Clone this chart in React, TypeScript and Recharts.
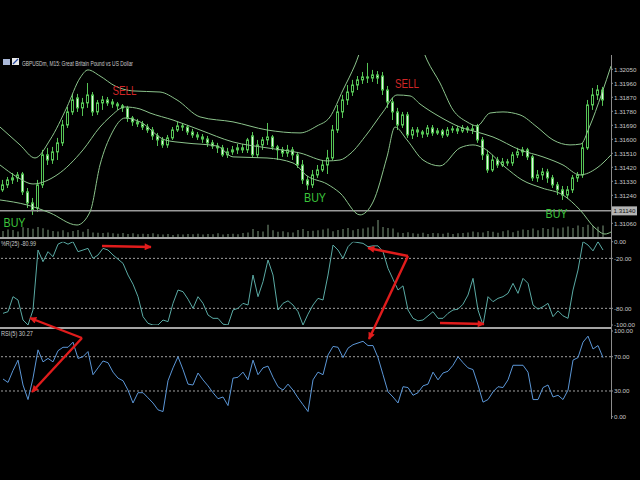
import React from "react";
import {
  Bar,
  ComposedChart,
  Line,
  ReferenceDot,
  ReferenceLine,
  XAxis,
  YAxis,
} from "recharts";

// GBPUSDm M15 bars, oldest first
const openPrice = [
  1.31275, 1.31307, 1.31339, 1.31352, 1.31377, 1.31262, 1.31191, 1.31159, 1.31307, 1.315,
  1.31467, 1.31519, 1.31577, 1.31692, 1.31776, 1.31866, 1.31802, 1.31834, 1.31885, 1.31776,
  1.31834, 1.31853, 1.3184, 1.31827, 1.31815, 1.31802, 1.31737, 1.31712, 1.31699, 1.31679,
  1.3166, 1.31622, 1.31596, 1.31564, 1.31609, 1.3166, 1.31686, 1.31679, 1.31647, 1.31628,
  1.31615, 1.31602, 1.31577, 1.31557, 1.31545, 1.315, 1.31519, 1.31532, 1.31545, 1.31532,
  1.31622, 1.315, 1.31564, 1.31596, 1.31615, 1.31551, 1.31532, 1.31512, 1.31532, 1.315,
  1.31435, 1.31339, 1.31307, 1.31371, 1.31403, 1.31435, 1.3148, 1.3166, 1.31776, 1.31853,
  1.31904, 1.31949, 1.31982, 1.32001, 1.31994, 1.32014, 1.32007, 1.31917, 1.3184, 1.31776,
  1.31692, 1.31757, 1.31628, 1.3166, 1.31647, 1.31634, 1.31673, 1.31641, 1.31654, 1.31628,
  1.3166, 1.31667, 1.31654, 1.31673, 1.3166, 1.31686, 1.31596, 1.315, 1.31403, 1.31467,
  1.31435, 1.31455, 1.31448, 1.315, 1.31519, 1.31532, 1.31487, 1.31352, 1.31371, 1.3139,
  1.31352, 1.31307, 1.31275, 1.31242, 1.31275, 1.31352, 1.31371, 1.31545, 1.31821, 1.31885,
  1.31917,
];
const highPrice = [
  1.31339, 1.31358, 1.31384, 1.3139, 1.3139, 1.31287, 1.31223, 1.31339, 1.31532, 1.31545,
  1.31551, 1.31609, 1.31724, 1.31808, 1.31892, 1.31892, 1.31866, 1.31962, 1.31904, 1.31853,
  1.31879, 1.31872, 1.31859, 1.3184, 1.31827, 1.31815, 1.3175, 1.31731, 1.31718, 1.31699,
  1.31679, 1.31641, 1.31615, 1.31628, 1.31679, 1.31712, 1.31705, 1.31692, 1.31667, 1.31647,
  1.31634, 1.31622, 1.31596, 1.31577, 1.31564, 1.31545, 1.31557, 1.3157, 1.3157, 1.31609,
  1.31647, 1.31596, 1.31615, 1.31705, 1.31628, 1.31564, 1.31551, 1.31564, 1.31551, 1.31519,
  1.31467, 1.31365, 1.31403, 1.31435, 1.31467, 1.31532, 1.31692, 1.31821, 1.31885, 1.31949,
  1.31982, 1.32007, 1.32033, 1.32091, 1.32046, 1.32039, 1.32033, 1.31943, 1.31866, 1.31802,
  1.31776, 1.31776, 1.31679, 1.31679, 1.3166, 1.31692, 1.31692, 1.31673, 1.31667, 1.31679,
  1.31686, 1.31686, 1.31692, 1.31686, 1.31692, 1.31699, 1.31615, 1.31532, 1.315, 1.31487,
  1.3148, 1.31474, 1.31519, 1.31545, 1.31551, 1.31545, 1.315, 1.31403, 1.31416, 1.3141,
  1.31371, 1.31326, 1.313, 1.313, 1.31371, 1.3139, 1.31577, 1.31853, 1.3193, 1.31949,
  1.31937,
];
const lowPrice = [
  1.31262, 1.31287, 1.31313, 1.31326, 1.31242, 1.31159, 1.31114, 1.31133, 1.31287, 1.31435,
  1.31442, 1.31467, 1.31557, 1.31673, 1.31757, 1.31776, 1.3175, 1.31802, 1.3175, 1.31757,
  1.31789, 1.31815, 1.31802, 1.31789, 1.31776, 1.31712, 1.31686, 1.31679, 1.3166, 1.31641,
  1.31596, 1.31557, 1.31545, 1.31545, 1.31596, 1.31647, 1.31654, 1.31628, 1.31609, 1.31596,
  1.31577, 1.31551, 1.31538, 1.31512, 1.31487, 1.3148, 1.315, 1.31506, 1.31512, 1.31512,
  1.3148, 1.3148, 1.31532, 1.31564, 1.31532, 1.31467, 1.31487, 1.31487, 1.31467, 1.31416,
  1.31313, 1.31275, 1.31287, 1.31352, 1.3139, 1.31377, 1.31467, 1.31641, 1.31737, 1.31821,
  1.31879, 1.31917, 1.31956, 1.31962, 1.31969, 1.31956, 1.31885, 1.31802, 1.31724, 1.3166,
  1.31673, 1.31609, 1.31602, 1.31615, 1.31609, 1.31615, 1.31622, 1.31628, 1.31609, 1.31615,
  1.31641, 1.31634, 1.31641, 1.31641, 1.31634, 1.31577, 1.31467, 1.31384, 1.3139, 1.31416,
  1.31422, 1.31429, 1.31429, 1.3148, 1.31493, 1.31467, 1.31332, 1.31326, 1.31339, 1.3132,
  1.31287, 1.31242, 1.3121, 1.31217, 1.31255, 1.31326, 1.31352, 1.31532, 1.31789, 1.31853,
  1.31815,
];
const closePrice = [
  1.31307, 1.31339, 1.31352, 1.31371, 1.31262, 1.31191, 1.31146, 1.31307, 1.315, 1.31467,
  1.31519, 1.31577, 1.31692, 1.31776, 1.31853, 1.31802, 1.31834, 1.31885, 1.31776, 1.31834,
  1.31853, 1.31834, 1.31827, 1.31815, 1.31802, 1.31737, 1.31712, 1.31699, 1.31679, 1.3166,
  1.31622, 1.31596, 1.31564, 1.31609, 1.3166, 1.31686, 1.31679, 1.31647, 1.31628, 1.31615,
  1.31602, 1.31577, 1.31557, 1.31545, 1.315, 1.31519, 1.31532, 1.31545, 1.31532, 1.31596,
  1.315, 1.31564, 1.31596, 1.31615, 1.31551, 1.31532, 1.31512, 1.31532, 1.315, 1.31435,
  1.31339, 1.31307, 1.31371, 1.31403, 1.31435, 1.3148, 1.3166, 1.31776, 1.31853, 1.31904,
  1.31949, 1.31982, 1.32001, 1.31994, 1.32014, 1.31994, 1.31917, 1.3184, 1.31776, 1.31692,
  1.31757, 1.31628, 1.3166, 1.31647, 1.31634, 1.31673, 1.31641, 1.31654, 1.31628, 1.3166,
  1.31667, 1.31654, 1.31673, 1.3166, 1.31667, 1.31596, 1.315, 1.31403, 1.31467, 1.31435,
  1.31455, 1.31448, 1.315, 1.31519, 1.31532, 1.31487, 1.31352, 1.31371, 1.3139, 1.31352,
  1.31307, 1.31275, 1.31242, 1.31275, 1.31352, 1.31371, 1.31545, 1.31821, 1.31885, 1.31917,
  1.31853,
];
const tickVolume = [
  200, 250, 230, 180, 320, 300, 270, 330, 290, 240,
  200, 180, 220, 160, 200, 230, 170, 260, 150, 140,
  130, 150, 120, 110, 130, 100, 120, 90, 110, 100,
  120, 90, 80, 100, 70, 90, 80, 100, 90, 110,
  80, 100, 90, 120, 80, 100, 110, 90, 130, 150,
  260, 200, 180, 400, 220, 170, 190, 160, 150, 230,
  260, 200, 210, 220, 250, 280, 190, 230, 260, 300,
  220, 260, 280, 310, 350, 560, 330, 300, 280, 150,
  130, 160, 120, 110, 140, 100, 130, 120, 110, 140,
  100, 120, 130, 150, 180, 160, 150, 200, 170, 140,
  190, 220, 160, 210, 250, 230, 280, 220, 300, 260,
  320, 280, 310, 350, 300, 380, 330, 400, 360, 340,
  380,
];
const wprValues = [
  -86, -84, -66, -70, -94, -100, -82, -10, -24, -12,
  -18, -3, 0, -3, 0, -12, -10, -8, -20, -16,
  -8, -10, -16, -21, -26, -40, -51, -66, -90, -98,
  -100, -100, -94, -96, -74, -58, -60, -69, -80, -66,
  -74, -88, -92, -92, -99, -100, -82, -80, -74, -76,
  -40, -66, -48, -22, -40, -82, -74, -71, -76, -84,
  -100, -87, -76, -68, -70, -40, -4, -10, -20, -6,
  0, -1, -2, -6, -5, -5, -12, -32, -45, -58,
  -53, -82, -92, -95, -94, -89, -84, -92, -92, -86,
  -82, -81, -75, -64, -44, -82, -100, -66, -72, -68,
  -66, -62, -50, -62, -44, -50, -76, -81, -78, -74,
  -90, -83, -89, -92, -58, -34, 0, -4, -11, 0,
  -10,
];
const rsiValues = [
  44, 40, 54, 66, 37, 20, 45, 78, 64, 68,
  64, 77, 81, 81, 87, 68, 70, 76, 49, 57,
  65, 63, 52, 45, 42, 31, 16, 28, 28, 22,
  16, 8, 6, 42, 57, 70, 55, 38, 37, 51,
  43, 36, 28, 21, 23, 13, 45, 46, 52, 43,
  66, 49, 57, 59, 46, 35, 31, 38, 31, 22,
  14, 6, 43, 52, 49, 72, 82, 81, 69, 80,
  84, 86, 88, 83, 83, 69, 49, 29, 23, 16,
  35, 34, 25, 28, 36, 38, 52, 43, 51, 53,
  60, 70, 63, 57, 55, 37, 17, 20, 29, 35,
  34, 43, 60, 60, 60, 52, 20, 20, 34, 37,
  23, 25, 20, 31, 66, 69, 87, 94, 79, 83,
  69,
];

// Bollinger bands (20): [bar, price]
const upperBand = [
  [-0.6, 1.31679], [3.4, 1.31564], [6.4, 1.3148], [9.4, 1.31596], [12.8, 1.31808],
  [15.4, 1.31994], [17, 1.32046], [19.4, 1.32007], [22.4, 1.31943], [26, 1.31911],
  [31.4, 1.31904], [34.8, 1.31853], [39.4, 1.31744], [46, 1.31712], [52.8, 1.3166],
  [59.4, 1.31641], [62.8, 1.31686], [65.4, 1.31744], [68, 1.31917], [70.4, 1.32078],
  [73.4, 1.32335], [78.4, 1.32464], [82.4, 1.32303], [84.8, 1.3211], [87.4, 1.31962],
  [90, 1.31789], [92.8, 1.31712], [94.8, 1.31686], [97.4, 1.31769], [100, 1.31776],
  [103.4, 1.31757], [106.8, 1.31679], [110, 1.31596], [113.4, 1.31564], [115.6, 1.3157],
  [117.2, 1.31673], [119.8, 1.31898], [121.6, 1.32071],
];
const middleBand = [
  [-0.6, 1.31435], [2.8, 1.31358], [6, 1.31313], [10.8, 1.31371], [16, 1.31532],
  [19.4, 1.31679], [21.4, 1.31744], [24.4, 1.31808], [27.4, 1.31795], [29.4, 1.31769],
  [34, 1.31724], [39.4, 1.3166], [46, 1.31583], [52.8, 1.31545], [59.4, 1.31512],
  [64.8, 1.31461], [67.4, 1.31467], [69.4, 1.31506], [72.8, 1.31634], [76, 1.31776],
  [78.8, 1.31885], [81.4, 1.31879], [83.4, 1.31827], [87.4, 1.31744], [91.4, 1.31679],
  [94.8, 1.31647], [98, 1.31615], [103.4, 1.31532], [108, 1.31487], [112, 1.31435],
  [115.4, 1.31371], [118.8, 1.31416], [121.6, 1.315],
];
const lowerBand = [
  [-0.6, 1.3121], [4.8, 1.31178], [9.4, 1.31127], [14.8, 1.31049], [17.4, 1.31133],
  [19.4, 1.31435], [21.8, 1.31641], [24.4, 1.31737], [27.4, 1.31712], [32.4, 1.31596],
  [36.4, 1.31577], [42.8, 1.31557], [46, 1.31487], [52.8, 1.3148], [58, 1.31448],
  [60.8, 1.31365], [64.8, 1.31313], [67.4, 1.31255], [71.4, 1.31114], [74, 1.31197],
  [76.8, 1.31487], [78.4, 1.31679], [80.8, 1.31596], [84, 1.31467], [87.4, 1.31429],
  [91.4, 1.31545], [94, 1.31564], [96, 1.31545], [100.4, 1.31422], [103.8, 1.31339],
  [107.8, 1.31287], [112, 1.31242], [115.4, 1.31146], [118.4, 1.3103], [120.4, 1.30991],
  [121.6, 1.31004],
];

const priceTicks = [1.3205, 1.3196, 1.3187, 1.3178, 1.3169, 1.316, 1.3151, 1.3142, 1.3133, 1.3124, 1.3106];
const wprTicks = [0, -20, -80, -100];
const rsiTicks = [100, 70, 30, 0];
const wprLevels = [-20, -80];
const rsiLevels = [70, 30];
const bidPrice = 1.3114;

const signals = [
  { text: "BUY", bar: 2.3, price: 1.31065 },
  { text: "SELL", bar: 24.3, price: 1.31914 },
  { text: "BUY", bar: 62.4, price: 1.31223 },
  { text: "SELL", bar: 80.8, price: 1.31959 },
  { text: "BUY", bar: 110.7, price: 1.31123 },
];

// hand-drawn red arrows over the panels, in page pixels
const arrows = [
  [102, 246, 151, 247],
  [82, 338, 30, 318],
  [82, 338, 32, 392],
  [408, 256, 368, 248],
  [408, 256, 369, 339],
  [440, 323, 484, 324],
];

const X_DOMAIN: [number, number] = [-0.6, 121.6];
const CANDLE = "#56c456";
const BEAR_BODY = "#e4f7e4";
const BAND = "#8cc48c";
const VOLUME = "#7f9a7f";
const AXIS = "#8c8c8c";
const LEVEL = "#a0a0a0";
const TEXT = "#c8c8c8";
const RED = "#e01c1c";
const tickStyle = { fill: TEXT, fontSize: 6.2, fontFamily: "Liberation Sans" };

const rows = closePrice.map((close, i) => ({
  i,
  open: openPrice[i],
  high: highPrice[i],
  low: lowPrice[i],
  close,
  vol: tickVolume[i],
  wpr: wprValues[i],
  rsi: rsiValues[i],
}));
const toRows = (band: number[][]) => band.map(([i, v]) => ({ i, v }));

function Candle(props: any) {
  const { x, y, width, height, payload } = props;
  if (!payload || x == null) return null;
  const top = Math.min(y, y + height);
  const span = Math.abs(height);
  const range = payload.high - payload.low || 1;
  const toY = (v: number) => top + ((payload.high - v) / range) * span;
  const cx = Math.floor(x + width / 2) + 0.5;
  const bodyTop = toY(Math.max(payload.open, payload.close));
  const bodyBot = toY(Math.min(payload.open, payload.close));
  const rising = payload.close >= payload.open;
  return (
    <g>
      <line x1={cx} x2={cx} y1={top} y2={top + span} stroke={CANDLE} strokeWidth={1} />
      <rect
        x={cx - 1}
        y={bodyTop}
        width={2}
        height={Math.max(bodyBot - bodyTop, 0.5)}
        fill={rising ? "#000000" : BEAR_BODY}
        stroke={CANDLE}
        strokeWidth={1}
      />
    </g>
  );
}

function BidLabel(props: any) {
  const vb = props.viewBox;
  if (!vb) return null;
  const x = vb.x + vb.width + 1;
  return (
    <g>
      <rect x={x} y={vb.y - 4.5} width={25} height={9} fill="#b4b4b4" />
      <text
        x={x + 1.5}
        y={vb.y}
        dy="0.35em"
        fontSize={6}
        fontFamily="Liberation Sans"
        fill="#111"
        textLength={22}
        lengthAdjust="spacingAndGlyphs"
      >
        {bidPrice.toFixed(5)}
      </text>
    </g>
  );
}

function SignalText(props: any, text: string) {
  const isBuy = text === "BUY";
  return (
    <text
      x={props.cx}
      y={props.cy}
      dy="0.36em"
      textAnchor="middle"
      fontSize={12.5}
      fontFamily="Liberation Sans"
      textLength={isBuy ? 22 : 24}
      lengthAdjust="spacingAndGlyphs"
      fill={isBuy ? "#3cc43c" : "#d02626"}
    >
      {text}
    </text>
  );
}

export default function App() {
  return (
    <div style={{ position: "fixed", left: 0, top: 0, width: 640, height: 480, background: "#000", overflow: "hidden" }}>
      <div style={{ position: "absolute", left: 0, top: 55 }}>
        <ComposedChart width={640} height={182} data={rows} margin={{ top: 0, right: 0, bottom: 0, left: 0 }}>
          <XAxis xAxisId="c" dataKey="i" type="number" domain={X_DOMAIN} hide allowDataOverflow />
          <XAxis xAxisId="v" dataKey="i" type="number" domain={X_DOMAIN} hide allowDataOverflow />
          <YAxis
            yAxisId="p"
            orientation="right"
            domain={[1.30972, 1.32142]}
            allowDataOverflow
            ticks={priceTicks}
            interval={0}
            tickFormatter={(v: number) => v.toFixed(5)}
            width={29}
            axisLine={false}
            tickLine={{ stroke: AXIS }}
            tickSize={2}
            tickMargin={1}
            tick={tickStyle}
          />
          <YAxis yAxisId="v" hide domain={[0, 6000]} />
          <Bar xAxisId="v" yAxisId="v" dataKey="vol" barSize={1} fill={VOLUME} isAnimationActive={false} />
          <ReferenceLine xAxisId="c" yAxisId="p" y={bidPrice} stroke="#9a9a9a" strokeWidth={1.5} label={<BidLabel />} />
          {[upperBand, middleBand, lowerBand].map((band, k) => (
            <Line
              key={k}
              xAxisId="c"
              yAxisId="p"
              data={toRows(band)}
              dataKey="v"
              type="monotone"
              stroke={BAND}
              strokeWidth={1}
              dot={false}
              isAnimationActive={false}
            />
          ))}
          <Bar
            xAxisId="c"
            yAxisId="p"
            dataKey={(d: any) => [d.low, d.high]}
            barSize={3}
            shape={(p: any) => <Candle {...p} />}
            isAnimationActive={false}
          />
          {signals.map((s, k) => (
            <ReferenceDot
              key={k}
              xAxisId="c"
              yAxisId="p"
              x={s.bar}
              y={s.price}
              r={0}
              shape={(p: any) => SignalText(p, s.text)}
            />
          ))}
        </ComposedChart>
      </div>

      <div style={{ position: "absolute", left: 0, top: 238 }}>
        <ComposedChart width={640} height={90} data={rows} margin={{ top: 3.7, right: 0, bottom: 3, left: 0 }}>
          <XAxis dataKey="i" type="number" domain={X_DOMAIN} hide allowDataOverflow />
          <YAxis
            orientation="right"
            domain={[-100, 0]}
            allowDataOverflow
            ticks={wprTicks}
            interval={0}
            tickFormatter={(v: number) => v.toFixed(2)}
            width={29}
            axisLine={false}
            tickLine={{ stroke: AXIS }}
            tickSize={2}
            tickMargin={1}
            tick={tickStyle}
          />
          {wprLevels.map((l) => (
            <ReferenceLine key={l} y={l} stroke={LEVEL} strokeDasharray="2 2" />
          ))}
          <Line dataKey="wpr" type="linear" stroke="#5aaaa4" strokeWidth={1} dot={false} isAnimationActive={false} />
        </ComposedChart>
      </div>

      <div style={{ position: "absolute", left: 0, top: 328 }}>
        <ComposedChart width={640} height={92} data={rows} margin={{ top: 3, right: 0, bottom: 3.3, left: 0 }}>
          <XAxis dataKey="i" type="number" domain={X_DOMAIN} hide allowDataOverflow />
          <YAxis
            orientation="right"
            domain={[0, 100]}
            allowDataOverflow
            ticks={rsiTicks}
            interval={0}
            tickFormatter={(v: number) => v.toFixed(2)}
            width={29}
            axisLine={false}
            tickLine={{ stroke: AXIS }}
            tickSize={2}
            tickMargin={1}
            tick={tickStyle}
          />
          {rsiLevels.map((l) => (
            <ReferenceLine key={l} y={l} stroke={LEVEL} strokeDasharray="2 2" />
          ))}
          <Line dataKey="rsi" type="linear" stroke="#5b96d6" strokeWidth={1} dot={false} isAnimationActive={false} />
        </ComposedChart>
      </div>

      {/* panel separators and price scale line */}
      <div style={{ position: "absolute", left: 0, top: 236.5, width: 612, height: 2, background: "#a4a4a4" }} />
      <div style={{ position: "absolute", left: 0, top: 326.5, width: 612, height: 2, background: "#a4a4a4" }} />
      <div style={{ position: "absolute", left: 611, top: 55, width: 1, height: 364, background: AXIS }} />

      <svg width={640} height={480} style={{ position: "absolute", left: 0, top: 0, pointerEvents: "none" }}>
        <defs>
          <marker id="head" viewBox="0 0 10 10" refX="9" refY="5" markerWidth="8" markerHeight="7" markerUnits="userSpaceOnUse" orient="auto">
            <path d="M0,0 L10,5 L0,10 z" fill={RED} />
          </marker>
        </defs>
        <rect x={3} y={59} width={7} height={6} fill="#aab8d8" />
        <rect x={12} y={58} width={7} height={7} fill="#e8e8e8" />
        <line x1={13} y1={64} x2={18} y2={59} stroke="#2a4aa0" strokeWidth={1.2} />
        <text x={22} y={66} fontSize={6.5} fontFamily="Liberation Sans" fill={TEXT} textLength={111} lengthAdjust="spacingAndGlyphs">
          GBPUSDm, M15:  Great Britain Pound vs US Dollar
        </text>
        <text x={1} y={246} fontSize={6.5} fontFamily="Liberation Sans" fill={TEXT} textLength={35} lengthAdjust="spacingAndGlyphs">
          %R(25) -80.99
        </text>
        <text x={1} y={336} fontSize={6.5} fontFamily="Liberation Sans" fill={TEXT} textLength={32} lengthAdjust="spacingAndGlyphs">
          RSI(5) 30.27
        </text>
        {arrows.map(([x1, y1, x2, y2], k) => (
          <line key={k} x1={x1} y1={y1} x2={x2} y2={y2} stroke={RED} strokeWidth={2.4} markerEnd="url(#head)" />
        ))}
      </svg>
    </div>
  );
}
